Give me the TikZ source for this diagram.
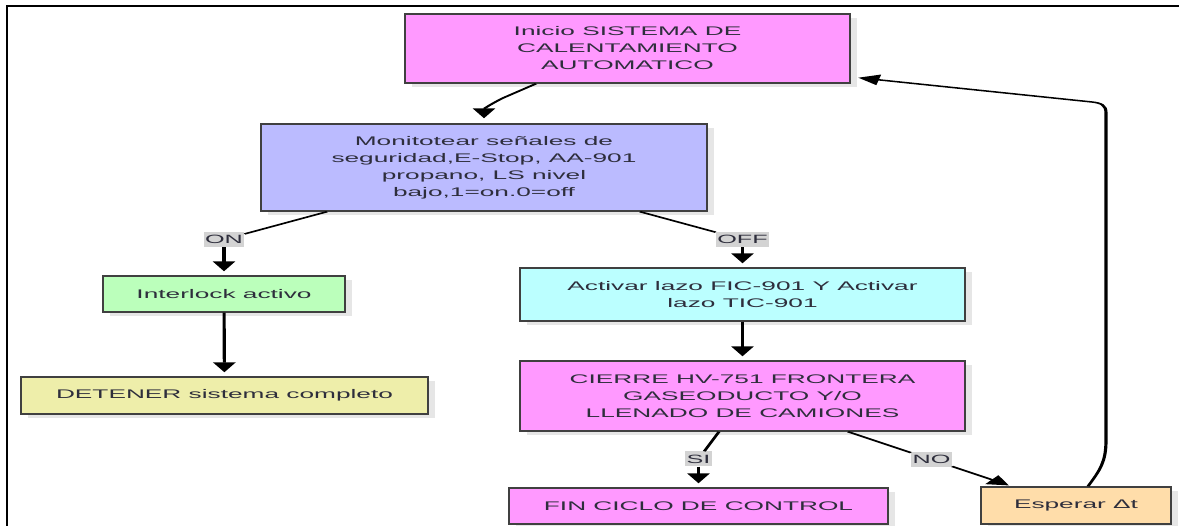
\documentclass[tikz,border=0pt]{standalone}
\usepackage{fontspec}
\setmainfont{Liberation Sans}
\usetikzlibrary{arrows.meta,shadows,calc}
\definecolor{pinkc}{HTML}{FF99FF}
\definecolor{lavc}{HTML}{BBBBFF}
\definecolor{greenc}{HTML}{BBFFBB}
\definecolor{yelc}{HTML}{EEEEAA}
\definecolor{cyanc}{HTML}{BBFFFF}
\definecolor{orc}{HTML}{FFDDAA}
\definecolor{bordc}{HTML}{404040}
\definecolor{shadc}{HTML}{E6E6E6}
\definecolor{labc}{HTML}{D3D3D3}
\definecolor{txtc}{HTML}{2E2E3C}
\tikzset{
  box/.style={draw=bordc, line width=1.4pt, text=txtc, align=center, inner sep=0pt,
    font=\fontsize{12.5}{17}\selectfont,
    general shadow={fill=shadc, shadow xshift=3.3pt, shadow yshift=-4pt}},
  sz/.style 2 args={minimum width={#1pt/2.1}, minimum height=#2pt},
  lab/.style={fill=labc, text=txtc, inner xsep=0.6pt, inner ysep=0pt, minimum height=15pt,
    font=\fontsize{12}{14}\selectfont},
  conn/.style={line width=1.5pt, draw=black},
  arr/.style={conn, -{Triangle[width=10.5pt,length=10pt]}, shorten >=4pt},
}
\begin{document}
\begin{tikzpicture}
\useasboundingbox (0pt,0pt) rectangle (1179pt,-526pt);
\fill[white] (0pt,0pt) rectangle (1179pt,-526pt);
\draw[line width=2.5pt] (7pt,-530pt) -- (7pt,-6pt) -- (1185pt,-6pt);
\begin{scope}[transform canvas={xscale=2.1}, x=0.476190pt, y=-1pt]
  \node[box, sz={445}{69}, fill=pinkc] (ini) at (627.5,48.5) {Inicio SISTEMA DE\\CALENTAMIENTO\\AUTOMATICO};
  \node[box, sz={446}{87}, fill=lavc] (mon) at (484,167.5) {Monitotear señales de\\seguridad,E-Stop, AA-901\\propano, LS nivel\\bajo,1=on.0=off};
  \node[box, sz={242}{36}, fill=greenc] (inter) at (224,294) {Interlock activo};
  \node[box, sz={407}{37}, fill=yelc] (det) at (224.5,395.5) {DETENER sistema completo};
  \node[box, sz={445}{53}, fill=cyanc] (act) at (742.5,294.5) {Activar lazo FIC-901 Y Activar\\lazo TIC-901};
  \node[box, sz={445}{70}, fill=pinkc] (cie) at (742.5,396) {CIERRE HV-751 FRONTERA\\GASEODUCTO Y/O\\LLENADO DE CAMIONES};
  \node[box, sz={379}{36}, fill=pinkc] (fin) at (698.5,506) {FIN CICLO DE CONTROL};
  \node[box, sz={190}{37}, fill=orc] (esp) at (1076,505.5) {Esperar Δt};

  \node[lab] (on) at (224,239.5) {ON};
  \node[lab] (off) at (742.5,239.5) {OFF};
  \node[lab] (si) at (698.5,459) {SI};
  \node[lab] (no) at (931.5,459.5) {NO};

  \draw[arr, shorten >=5pt] ($(ini.south)+(-91.5,0)$) -- (503,98) .. controls (489,105) and (484,109) .. (mon.north);
  \draw[conn] ($(mon.south)+(-157,0)$) -- (on);
  \draw[arr] (on) -- (inter);
  \draw[arr] (inter) -- (det);
  \draw[conn] ($(mon.south)+(156,0)$) -- (off);
  \draw[arr] (off) -- (act);
  \draw[arr] (act) -- (cie);
  \draw[conn] ($(cie.south)+(-23.5,0)$) -- (si);
  \draw[arr] (si) -- (fin);
  \draw[conn] ($(cie.south)+(105.5,0)$) -- (no);
  \draw[arr, shorten >=1.5pt] (no) -- ($(esp.north west)+(32,0)$);
  \draw[arr, shorten >=3.3pt] ($(esp.north)+(12,0)$) .. controls (1100,470) and (1106,462) .. (1106,440)
     -- (1106,113) .. controls (1106,105) and (1101,103) .. (1092,102) -- ($(ini.east)+(0,28.5)$);
\end{scope}
\end{tikzpicture}
\end{document}
